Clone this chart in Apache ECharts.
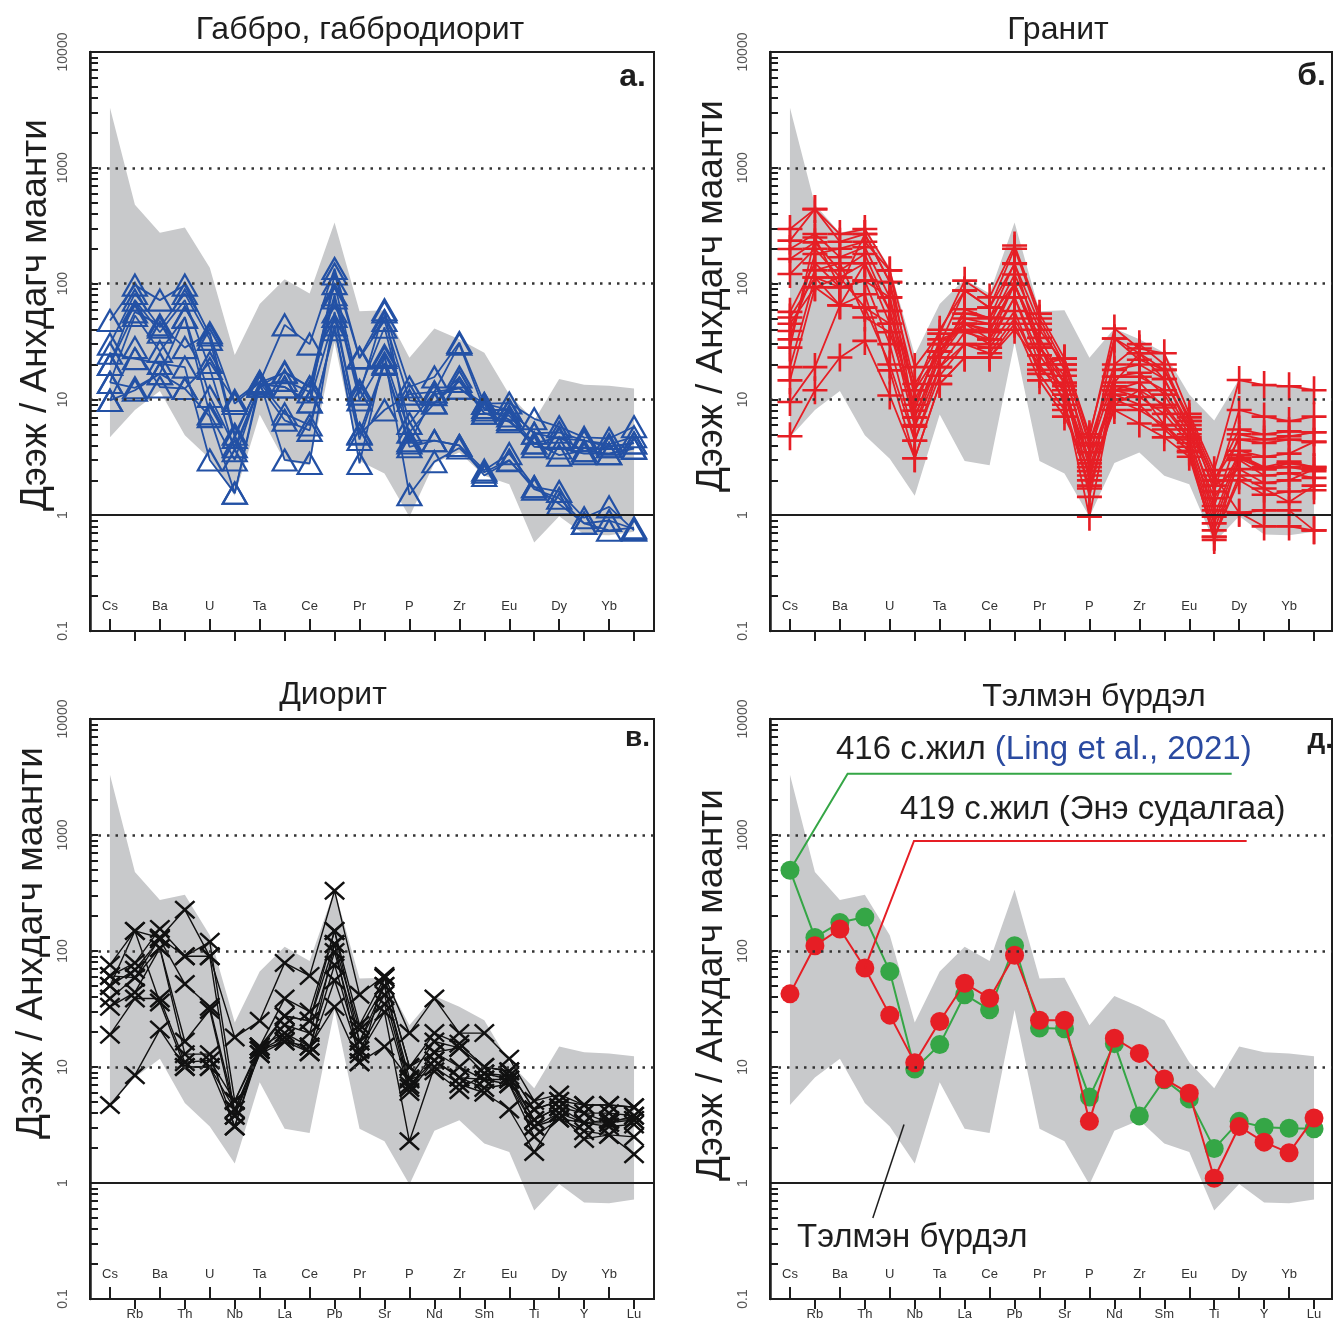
<!DOCTYPE html>
<html><head><meta charset="utf-8">
<script src="https://cdn.jsdelivr.net/npm/echarts@6/dist/echarts.min.js"></script>
<style>html,body{margin:0;padding:0;background:#fff}#c{width:1333px;height:1325px}</style>
</head><body><div id="c"></div>
<script>
// ---------- DATA ----------
const elements = ['Cs','Rb','Ba','Th','U','Nb','Ta','La','Ce','Pb','Pr','Sr','P','Nd','Zr','Sm','Eu','Ti','Dy','Y','Yb','Lu'];
const yTickLabels = [0.1, 1, 10, 100, 1000, 10000];
const gridLines = [10, 100, 1000];
const panelTitles = ['Габбро, габбродиорит', 'Гранит', 'Диорит', 'Тэлмэн бүрдэл'];
const panelLetters = ['а.', 'б.', 'в.', 'д.'];
const yAxisName = 'Дээж / Анхдагч маанти';

// Telmen formation field (gray envelope)
const envelopeLow  = [4.7, 8.1, 11.8, 4.9, 3.07, 1.47, 7.4, 2.94, 2.7, 31, 2.94, 2.29, 0.97, 2.82, 3.48, 2.19, 1.85, 0.58, 0.98, 0.68, 0.67, 0.72];
const envelopeHigh = [3300, 480, 275, 305, 137, 24.2, 66.7, 109, 82, 337, 57.8, 58.8, 22.9, 40.9, 33.1, 25.3, 11, 6.56, 15, 13.4, 13.1, 12.4];

// а. Gabbro, gabbrodiorite
const gabbro = [
  [48, 97, 72, 97, 36, 9.2, 14, 44, 30, 135, 23, 57, 12.8, 15.6, 31, 9.2, 9.3, 6.8, 5.8, 4.7, 4.6, 5.8],
  [30, 82, 42, 82, 33, 4.7, 14, 17, 12.8, 100, 12, 42, 6.2, 11.6, 30, 8.1, 8.1, 5.1, 5.2, 4.4, 4.1, 4.75],
  [20, 72, 38, 72, 18.5, 3.6, 13, 14.6, 11.6, 75, 9.9, 23, 5.2, 9.3, 15.6, 7.6, 7.2, 4.2, 4.7, 3.6, 3.9, 4.2],
  [14, 53, 26, 51, 7.5, 3.0, 13.5, 12.8, 9.5, 52, 5.1, 20.6, 4.2, 11, 12.5, 8.5, 6.7, 3.9, 3.8, 3.4, 3.4, 3.8],
  [9.8, 12, 16.7, 12.4, 7.1, 1.55, 14, 7.5, 6, 40, 4.5, 20, 3.9, 4.4, 4.0, 2.45, 3.4, 1.76, 1.6, 0.95, 1.18, 0.74],
  [25, 22.5, 20.4, 19, 3.0, 1.55, 13, 6.6, 5.4, 44, 2.8, 24, 1.5, 2.9, 3.8, 2.35, 3.0, 1.68, 1.4, 0.85, 0.9, 0.76],
  [9.8, 28, 12.8, 12.4, 20.8, 9.8, 14.3, 3.0, 2.8, 57, 5.0, 8.1, 11.1, 11.6, 12.5, 9.2, 8.1, 5.1, 4.6, 4.4, 3.9, 4.2],
  [20, 57, 44, 28, 37.6, 5.0, 13.7, 12.8, 9.5, 121, 22.7, 48, 9.8, 9.3, 14.3, 7.6, 6.4, 4.2, 3.3, 3.6, 3.4, 3.76],
  [14, 12.6, 16.7, 51.5, 10.6, 3.9, 13, 17.3, 12.8, 80, 11.1, 59.5, 4.4, 4.4, 4.0, 2.2, 2.95, 1.76, 1.25, 0.85, 0.74, 0.78]
];

// б. Granite
const granite = [
  [296, 440, 268, 296, 130, 19, 37, 106, 76, 213, 55, 22.5, 4.7, 41, 27.5, 25, 7.5, 2.45, 14.7, 13.3, 13, 12],
  [235, 440, 230, 268, 103, 13.6, 30, 87, 62, 148, 45, 18, 2.8, 33.6, 22, 18, 6.5, 1.6, 8.1, 7.1, 6.5, 7.1],
  [199, 268, 169, 206, 76, 12, 26, 55, 51, 99, 34, 14, 2.0, 15.7, 15.7, 12, 5.5, 1.2, 5.0, 4.5, 4.8, 5.2],
  [163, 227, 130, 180, 58, 7, 23, 45, 40, 99, 28, 13.7, 1.44, 13, 12, 9, 4.7, 0.97, 3.6, 3.2, 3.4, 4.3],
  [121, 200, 113, 150, 45, 5.8, 19, 38, 33, 76, 20, 10, 0.97, 12, 10.5, 7.5, 4.2, 0.85, 3.3, 2.5, 2.6, 2.4],
  [57, 150, 93, 106, 30, 4.4, 16, 30, 28, 58, 16.6, 8.1, 1.8, 10, 8.1, 6, 3.9, 0.74, 3.0, 2.2, 2.3, 2.1],
  [51, 113, 65, 81, 17.8, 3.1, 13.6, 23, 23, 45, 14.6, 7.1, 2.4, 8.1, 6.2, 4.7, 3.2, 0.65, 2.0, 1.5, 1.6, 1.64],
  [45, 93, 113, 62, 45, 9, 30, 45, 38, 99, 28, 16, 3.5, 15.7, 17, 11, 5, 1.4, 3.3, 2.6, 2.9, 2.6],
  [39, 130, 150, 51, 38, 8, 33, 40, 30, 76, 24, 12, 3.0, 12, 14, 8.5, 4.5, 1.1, 1.05, 0.8, 0.8, 0.74],
  [33, 180, 200, 230, 130, 10, 26, 50, 45, 120, 40, 20, 4, 18, 20, 15, 6, 2.0, 4.5, 4.2, 4.5, 4.3],
  [28, 250, 93, 106, 76, 6, 23, 60, 50, 150, 30, 11, 2.2, 14, 25, 15, 5.5, 1.8, 2.5, 1.9, 2.0, 2.5],
  [4.8, 12, 23, 32, 10.8, 3.1, 13.6, 23, 23, 40, 20, 22.5, 5, 33.6, 25, 18, 7, 2.2, 1.05, 1.1, 1.1, 0.74],
  [9.5, 19, 65, 62, 20, 4.4, 19, 30, 25, 50, 18, 13, 2.6, 11, 9, 5.5, 3.6, 0.65, 2.2, 1.7, 1.3, 1.8],
  [14.6, 93, 65, 150, 58, 12, 40, 87, 62, 200, 50, 20, 4.2, 20, 30, 20, 6.5, 2.0, 5.5, 5.0, 5.3, 5.2],
  [19, 113, 93, 268, 103, 7, 26, 45, 33, 99, 30, 9, 1.7, 9, 12, 6, 3.5, 0.61, 3.1, 2.5, 2.8, 2.6]
];

// в. Diorite
const diorite = [
  [76, 149, 130, 227, 90, 18, 25, 79, 61, 331, 42, 61, 19.6, 39, 19.6, 19.6, 11.8, 5.1, 5.8, 4.7, 4.7, 4.5],
  [61, 79, 155, 90, 120, 5.1, 15, 39, 30, 149, 23, 59, 10, 19.6, 15.9, 10, 9.2, 4.3, 5.1, 4.0, 4.0, 3.8],
  [50, 69, 126, 52, 33, 4.3, 14, 27.5, 25, 115, 21, 50, 8, 16.6, 14.6, 8.8, 8.4, 3.5, 4.5, 3.3, 3.3, 3.5],
  [39, 59, 106, 16.6, 31, 3.8, 12.9, 23, 19.6, 98, 16.6, 42, 6.6, 13.4, 10, 7.8, 7.8, 3.07, 4.0, 3.3, 3.07, 3.2],
  [33, 44, 106, 12.9, 12.9, 3.07, 15, 19.6, 15, 76, 14, 35, 6.1, 11.4, 8.1, 6.6, 7.1, 2.5, 3.6, 2.8, 2.6, 2.5],
  [19, 39, 39, 11, 11.4, 5.1, 14, 18, 13.4, 56, 12.9, 29.8, 2.29, 10, 7.1, 6, 4.3, 1.85, 4.0, 2.4, 2.6, 1.77],
  [4.7, 8.5, 21, 10, 10, 3.07, 14, 16.6, 15, 33, 11, 15, 7.8, 9.2, 6.3, 8.8, 7.8, 3.5, 4.5, 4.0, 3.3, 3.8],
  [50, 149, 36, 10, 10, 4.3, 12.9, 16.6, 13.4, 115, 11, 59, 10, 13.4, 14.6, 10, 9.2, 4.3, 5.1, 4.7, 4.7, 4.5],
  [61, 59, 130, 90, 90, 3.8, 15, 27.5, 25, 149, 16.6, 50, 7, 11.4, 8.1, 7.8, 7.1, 3.07, 3.6, 3.3, 3.5, 3.5]
];

// д. Telmen formation
const telmen416 = [497, 131, 176, 196, 66.7, 9.6, 15.6, 42, 31.2, 111, 21.7, 21.4, 5.5, 15.9, 3.79, 7.76, 5.31, 1.98, 3.4, 3.02, 2.97, 2.94];
const telmen419 = [42.7, 111, 155, 71.3, 28, 10.9, 24.7, 52.7, 39.2, 91.9, 25.3, 25.3, 3.4, 17.7, 13.1, 7.9, 5.93, 1.1, 3.07, 2.25, 1.82, 3.64];

// ---------- LAYOUT / STYLE ----------
const FONT = "'Liberation Sans', Arial, sans-serif";
const grids = [
  {left: 90, top: 52, width: 564, height: 579},
  {left: 770, top: 52, width: 562, height: 579},
  {left: 90, top: 719, width: 564, height: 580},
  {left: 770, top: 719, width: 562, height: 580}
];
const xMin = -0.8;
const xMax = [21.8, 21.72, 21.8, 21.72];
const evenIdx = elements.map((e, i) => i).filter(i => i % 2 === 0);
const oddIdx = elements.map((e, i) => i).filter(i => i % 2 === 1);
const logTicks = [];
for (let d = -1; d < 4; d++) for (let m = 1; m < 10; m++) logTicks.push(+(m * Math.pow(10, d)).toPrecision(3));
logTicks.push(10000);

const INK = '#1e1e1e';
const xAxes = [], yAxes = [];
grids.forEach((g, k) => {
  xAxes.push({
    type: 'value', gridIndex: k, min: xMin, max: xMax[k], position: 'bottom',
    axisLine: {show: true, onZero: false, lineStyle: {color: INK, width: 2}},
    splitLine: {show: false},
    axisTick: {show: true, inside: true, length: 12, customValues: evenIdx, lineStyle: {color: INK, width: 2}},
    axisLabel: {show: true, inside: true, margin: 18, customValues: evenIdx,
      formatter: v => elements[Math.round(v)] || '', fontSize: 13, color: '#333', fontFamily: FONT}
  });
  xAxes.push({
    type: 'value', gridIndex: k, min: xMin, max: xMax[k], position: 'bottom', offset: 0,
    axisLine: {show: false}, splitLine: {show: false},
    axisTick: {show: true, inside: false, length: 10, customValues: oddIdx, lineStyle: {color: INK, width: 2}},
    axisLabel: {show: k >= 2, inside: false, margin: 9, customValues: oddIdx,
      formatter: v => elements[Math.round(v)] || '', fontSize: 13, color: '#333', fontFamily: FONT}
  });
  yAxes.push({
    type: 'log', logBase: 10, gridIndex: k, min: 0.1, max: 10000,
    axisLine: {show: true, onZero: false, lineStyle: {color: INK, width: 2.5}},
    splitLine: {show: false}, minorTick: {show: false},
    axisTick: {show: true, inside: true, length: 8, customValues: logTicks, lineStyle: {color: INK, width: 2}},
    axisLabel: {show: true, rotate: 90, margin: 20, customValues: yTickLabels,
      formatter: v => String(+(+v).toPrecision(3)), fontSize: 14, color: '#555', fontFamily: FONT}
  });
});

const refLines = {
  silent: true, symbol: 'none', label: {show: false},
  data: gridLines.map(v => ({yAxis: v, lineStyle: {type: [2.5, 6], width: 2.5, color: '#333'}}))
    .concat([{yAxis: 1, lineStyle: {type: 'solid', width: 2, color: INK}}])
};

function envelopeSeries(k) {
  return {
    type: 'custom', xAxisIndex: 2 * k, yAxisIndex: k, silent: true, z: 1,
    data: elements.map((e, i) => [i, envelopeLow[i], envelopeHigh[i]]),
    encode: {x: 0, y: [1, 2]},
    renderItem: (params, api) => {
      if (params.dataIndex !== 0) return null;
      const pts = [];
      for (let i = 0; i < elements.length; i++) pts.push(api.coord([i, envelopeHigh[i]]));
      for (let i = elements.length - 1; i >= 0; i--) pts.push(api.coord([i, envelopeLow[i]]));
      return {type: 'polygon', shape: {points: pts}, style: {fill: '#c8c9cb'}};
    }
  };
}

const PLUS = 'path://M11,0h2.6v28h-2.6zM0,12.7h24.6v2.6h-24.6z';
const CROSS = 'path://M0,1.6L1.6,0L10,7.4L18.4,0L20,1.6L11.8,9L20,16.4L18.4,18L10,10.6L1.6,18L0,16.4L8.2,9Z';

function sampleSeries(k, rows, opt, withRef) {
  return rows.map((row, r) => Object.assign({
    type: 'line', xAxisIndex: 2 * k, yAxisIndex: k, z: 3, animation: false,
    data: row.map((v, i) => [i, v]),
    markLine: (r === 0 && withRef) ? refLines : undefined
  }, JSON.parse(JSON.stringify(opt))));
}

const BLUE = '#2351a5', RED = '#e61e25', GREEN = '#35a646', BLACK = '#111';

const series = [];
series.push(envelopeSeries(0), envelopeSeries(1), envelopeSeries(2), envelopeSeries(3));
series.push(...sampleSeries(0, gabbro, {
  symbol: 'triangle', symbolSize: [24, 21],
  lineStyle: {color: BLUE, width: 1.8},
  itemStyle: {color: 'rgba(0,0,0,0)', borderColor: BLUE, borderWidth: 2.2}
}, true));
series.push(...sampleSeries(1, granite, {
  symbol: PLUS, symbolSize: [25, 28],
  lineStyle: {color: RED, width: 1.8},
  itemStyle: {color: RED}
}, true));
series.push(...sampleSeries(2, diorite, {
  symbol: CROSS, symbolSize: [21, 19],
  lineStyle: {color: BLACK, width: 1.4},
  itemStyle: {color: BLACK}
}, true));

// annotation leader lines (panel д)
const leader416 = [[0, 3370], [2.31, 3370], [17.7, 3370]];
const leader419 = [[3, 889], [4.97, 889], [18.3, 889]];
const leaderField = [[3.32, 0.5], [4.57, 3.2]];

series.push({
  type: 'line', xAxisIndex: 6, yAxisIndex: 3, z: 3, animation: false,
  data: telmen416.map((v, i) => [i, v]),
  symbol: 'circle', symbolSize: 19,
  lineStyle: {color: GREEN, width: 2}, itemStyle: {color: GREEN},
  markLine: refLines
});
series.push({
  type: 'line', xAxisIndex: 6, yAxisIndex: 3, z: 4, animation: false,
  data: telmen419.map((v, i) => [i, v]),
  symbol: 'circle', symbolSize: 19,
  lineStyle: {color: RED, width: 2}, itemStyle: {color: RED}
});
series.push({
  type: 'lines', coordinateSystem: 'cartesian2d', xAxisIndex: 6, yAxisIndex: 3, z: 5, silent: true,
  polyline: true, animation: false,
  lineStyle: {opacity: 1},
  data: [
    {coords: [[0, telmen416[0]], leader416[1], leader416[2]], lineStyle: {color: GREEN, width: 2, opacity: 1}},
    {coords: [[3, telmen419[3]], leader419[1], leader419[2]], lineStyle: {color: RED, width: 2, opacity: 1}},
    {coords: leaderField, lineStyle: {color: INK, width: 1.5, opacity: 1}}
  ]
});

const graphic = [];
const titlePos = [[360, 30], [1058, 30], [333, 695], [1094, 697]];
panelTitles.forEach((t, k) => graphic.push({
  type: 'text', x: titlePos[k][0], y: titlePos[k][1], silent: true,
  style: {text: t, font: '32px ' + FONT, fill: INK, align: 'center', verticalAlign: 'middle'}
}));
const namePos = [[36, 315], [712, 296], [32, 943], [712, 985]];
namePos.forEach(p => graphic.push({
  type: 'text', x: p[0], y: p[1], rotation: Math.PI / 2, silent: true,
  style: {text: yAxisName, font: '37px ' + FONT, fill: INK, align: 'center', verticalAlign: 'middle'}
}));
const letterPos = [[646, 77, 32], [1326, 76, 32], [650, 738, 28], [1333, 740, 28]];
panelLetters.forEach((t, k) => graphic.push({
  type: 'text', x: letterPos[k][0], y: letterPos[k][1], silent: true,
  style: {text: t, font: 'bold ' + letterPos[k][2] + 'px ' + FONT, fill: INK, align: 'right', verticalAlign: 'middle'}
}));
graphic.push({
  type: 'text', x: 836, y: 750, silent: true,
  style: {text: '{a|416 с.жил }{b|(Ling et al., 2021)}', align: 'left', verticalAlign: 'middle',
    rich: {a: {font: '33px ' + FONT, fill: INK, color: INK}, b: {font: '33px ' + FONT, fill: '#2a4aa0', color: '#2a4aa0'}}}
});
graphic.push({
  type: 'text', x: 900, y: 810, silent: true,
  style: {text: '419 с.жил (Энэ судалгаа)', font: '33px ' + FONT, fill: INK, align: 'left', verticalAlign: 'middle'}
});
graphic.push({
  type: 'text', x: 797, y: 1238, silent: true,
  style: {text: 'Тэлмэн бүрдэл', font: '33px ' + FONT, fill: INK, align: 'left', verticalAlign: 'middle'}
});

const chart = echarts.init(document.getElementById('c'), null, {renderer: 'canvas'});
chart.setOption({
  animation: false,
  backgroundColor: '#fff',
  grid: grids.map(g => Object.assign({show: true, borderColor: INK, borderWidth: 2, backgroundColor: 'rgba(0,0,0,0)', containLabel: false}, g)),
  xAxis: xAxes,
  yAxis: yAxes,
  series: series,
  graphic: graphic
});
</script></body></html>
